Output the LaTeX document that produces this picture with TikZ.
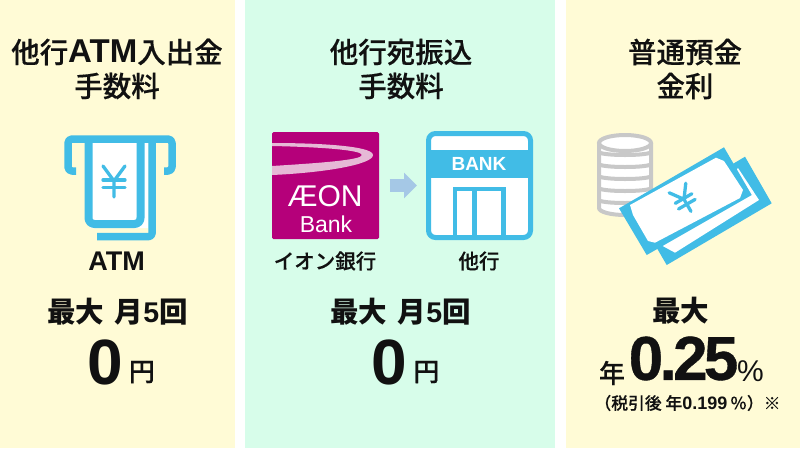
\documentclass[tikz,border=0pt]{standalone}
\usepackage{fontspec}
\usepackage{tikz}
\usetikzlibrary{arrows.meta}
\usetikzlibrary{shapes.geometric}
\newfontfamily\jpfont{Noto Sans CJK JP}
\newfontfamily\jpmedium[FakeBold=0.3]{Noto Sans CJK JP Medium}
\newfontfamily\numfont{Liberation Sans}
\definecolor{creambg}{HTML}{FFFBD6}
\definecolor{mintbg}{HTML}{D7FDEA}
\definecolor{iconblue}{HTML}{41BCE6}
\definecolor{aeonred}{HTML}{B5007A}
\definecolor{aeonpink}{HTML}{E6B9D6}
\definecolor{coingray}{HTML}{C8C8C8}
\definecolor{arrowblue}{HTML}{A5C8E6}
\definecolor{inkblack}{HTML}{111111}

\begin{document}
\begin{tikzpicture}[x=1pt,y=-1pt,
	title node/.style={inner sep=0,align=center,text=inkblack,font=\jpmedium\fontsize{28.5}{34}\selectfont},
	limit node/.style={inner sep=0,text=inkblack,font=\jpfont\bfseries\fontsize{28.5}{34}\selectfont},
	small node/.style={inner sep=0,text=inkblack,font=\jpmedium\fontsize{20.5}{24}\selectfont},
	yen node/.style={inner sep=0,text=inkblack,font=\jpmedium\fontsize{26}{30}\selectfont},
	zero node/.style={inner sep=0,text=inkblack,font=\numfont\bfseries\fontsize{64}{64}\selectfont},
	icon line/.style={draw=iconblue,line join=round},
	yen line/.style={draw=iconblue,line width=3.3,line cap=round,line join=round},
	coin line/.style={draw=coingray,line width=4,fill=white}]
	
	\useasboundingbox (0,0) rectangle (800,448);
	\fill[white] (0,0) rectangle (800,448);
	\fill[creambg] (0,0) rectangle (235,448);
	\fill[mintbg] (245,0) rectangle (555,448);
	\fill[creambg] (566,0) rectangle (800,448);
	
	% left panel
	\node[title node] (title1) at (117,69) {他行{\numfont\bfseries\fontsize{33}{34}\selectfont ATM}入出金\\手数料};
	\fill[white] (90,228) -- (148,228) -- (148,139) -- (140,139) -- (140,224) -- (90,224) -- cycle;
	\draw[icon line,line width=7.5,rounded corners=3] (97,236.5) -- (152,236.5) -- (152,139);
	\fill[white] (92,139) rectangle (138,221);
	\draw[icon line,line width=8,rounded corners=6] (88.5,139) -- (88.5,224) -- (140.5,224) -- (140.5,139);
	\draw[icon line,line width=7.5,rounded corners=4] (76,171) -- (68,171) -- (68,139) -- (172,139) -- (172,171) -- (164,171);
	\draw[yen line] (103,166) -- (114,181) -- (125,166) (114,181) -- (114,197);
	\draw[yen line] (103,180) -- (125,180) (103,187.5) -- (125,187.5);
	\node[small node,font=\numfont\bfseries\fontsize{27}{27}\selectfont] (atm) at (116.5,261) {ATM};
	\node[limit node] (limit1) at (117.5,312) {最大\hspace{4pt} 月{\numfont 5}回};
	\node[zero node] (zero1) at (105.5,362) {0};
	\node[yen node] (en1) at (142,372) {円};
	
	% middle panel
	\node[title node] (title2) at (401,69) {他行宛振込\\手数料};
	\node[fill=aeonred,rounded corners=1.5,minimum width=107,minimum height=107,inner sep=0] (aeon) at (325.5,185.5) {};
	\fill[aeonpink] (272,143) .. controls (320,143) and (373,146) .. (373,155) .. controls (373,165) and (320,173) .. (272,175) -- (272,166) .. controls (320,163) and (362,160) .. (362,155) .. controls (362,150) and (320,147) .. (272,146) -- cycle;
	\node[inner sep=0,text=white,font=\numfont\fontsize{30}{30}\selectfont] (aeonname) at (325,196) {ÆON};
	\node[inner sep=0,text=white,font=\numfont\fontsize{23}{23}\selectfont] (aeonbank) at (326,224) {Bank};
	\node[draw=iconblue,line width=5,fill=white,rounded corners=7,minimum width=102,minimum height=104,inner sep=0] (bank) at (479.5,185.5) {};
	\fill[iconblue] (428,150) rectangle (531,178);
	\node[inner sep=0,text=white,font=\numfont\bfseries\fontsize{19}{19}\selectfont] (bankname) at (479,164) {BANK};
	\fill[iconblue] (453,187) rectangle (506,236);
	\fill[white] (457,191) rectangle (472,235);
	\fill[white] (477,191) rectangle (501,235);
	\draw[draw=arrowblue,line width=13,-{Triangle[length=13pt,width=25pt]},shorten <=10.5pt,shorten >=9pt] (aeon) -- (bank);
	\node[small node] (aeonlabel) at (325,261) {イオン銀行};
	\node[small node] (banklabel) at (479,261) {他行};
	\node[limit node] (limit2) at (400.5,312) {最大\hspace{4pt} 月{\numfont 5}回};
	\node[zero node] (zero2) at (389,362) {0};
	\node[yen node] (en2) at (426.5,372) {円};
	
	% right panel
	\node[title node] (title3) at (685,69) {普通預金\\金利};
	\draw[coin line] (599,143) -- (599,208) arc[start angle=180,end angle=0,x radius=26,y radius=7] -- (651,143);
	\foreach \y in {152,164,176,188,200}
		\draw[coingray,line width=4] (599,\y) arc[start angle=180,end angle=0,x radius=26,y radius=3];
	\draw[coin line] (625,143) ellipse[x radius=26,y radius=8];
	\fill[iconblue] (745,156.7) -- (771.7,203.3) -- (666.7,265) -- (640,219) -- cycle;
	\fill[white] (738,168) -- (759,200) -- (675,252.7) -- (662.7,246) -- cycle;
	\fill[iconblue] (724,147.3) -- (751.7,195) -- (646.7,255) -- (619,208.3) -- cycle;
	\fill[white] (630,205) -- (716,157.7) -- (724,161) -- (743,190) -- (740,198) -- (655,242.7) -- (648,241) -- (633,215) -- cycle;
	\begin{scope}[shift={(684,199.3)},rotate=30,scale=0.87]
		\draw[yen line] (-11,-15) -- (0,0) -- (11,-15) (0,0) -- (0,16);
		\draw[yen line] (-11,-1) -- (11,-1) (-11,6.5) -- (11,6.5);
	\end{scope}
	\node[limit node] (limit3) at (680.5,311) {最大};
	\node[yen node] (en3) at (612,373) {年};
	\node[inner sep=0,text=inkblack,font=\numfont\bfseries\fontsize{62}{62}\selectfont] (rate) at (683.5,358.5) {\addfontfeature{LetterSpace=-6,FakeBold=0.6}0.25};
	\node[inner sep=0,text=inkblack,font=\numfont\fontsize{30}{30}\selectfont] (percent) at (750.5,371) {\%};
	\node[inner sep=0,text=inkblack,font=\jpmedium\fontsize{16.8}{18}\selectfont] (aftertax) at (687.5,403) {（税引後 年{\numfont\bfseries\fontsize{18}{18}\selectfont 0.199}\,％）※};
\end{tikzpicture}
\end{document}
